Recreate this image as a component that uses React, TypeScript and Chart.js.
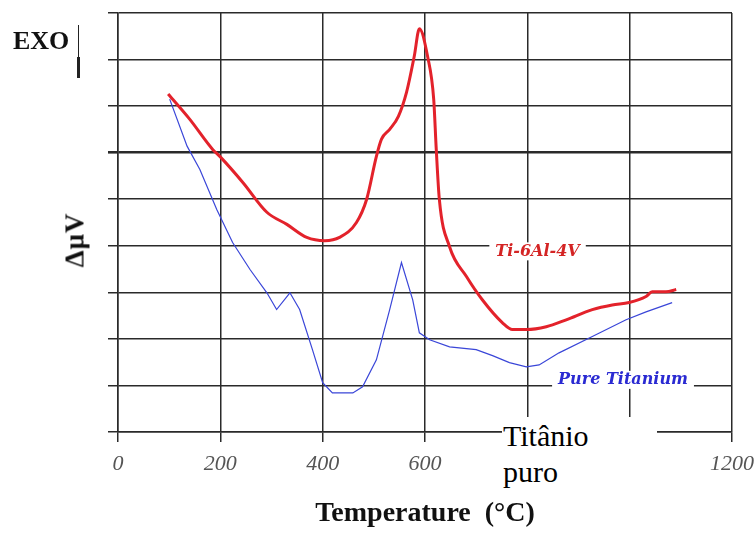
import React, { useEffect, useRef } from "react";
import { Chart, registerables } from "chart.js";

Chart.register(...registerables);

// Ti-6Al-4V curve (temperature °C, ΔμV in grid units)
const tiTemps = [98, 140, 185, 199, 244, 291, 330, 369, 404, 433, 466, 486, 505, 515, 531, 548, 564, 579, 589, 605, 617, 622, 628, 648, 681, 712, 751, 771, 798, 837, 876, 927, 966, 999, 1032, 1044, 1071, 1091];
const tiValues = [7.26, 6.72, 6.07, 5.92, 5.36, 4.72, 4.46, 4.18, 4.11, 4.18, 4.5, 5.0, 5.92, 6.29, 6.5, 6.78, 7.3, 8.07, 8.66, 8.07, 7.15, 6.07, 5.0, 3.98, 3.34, 2.84, 2.35, 2.2, 2.2, 2.26, 2.41, 2.63, 2.73, 2.78, 2.91, 3.01, 3.01, 3.06];

// Pure titanium curve
const pureTemps = [101, 135, 160, 193, 224, 258, 291, 310, 336, 355, 380, 400, 419, 459, 478, 505, 531, 554, 576, 589, 609, 648, 700, 732, 765, 798, 823, 862, 927, 993, 1032, 1083];
const pureValues = [7.15, 6.14, 5.64, 4.78, 4.07, 3.49, 2.99, 2.63, 2.99, 2.63, 1.77, 1.06, 0.84, 0.84, 0.97, 1.55, 2.63, 3.64, 2.84, 2.13, 1.98, 1.83, 1.77, 1.64, 1.49, 1.4, 1.44, 1.7, 2.05, 2.41, 2.58, 2.78];

const xTickValues = [0, 200, 400, 600, 800, 1000, 1200];

const seriesLabels = [
  { text: "Ti-6Al-4V", x: 820, y: 3.88, color: "#d42424" },
  { text: "Pure Titanium", x: 987, y: 1.12, color: "#2a2ad2" },
];

const SERIF = '"Liberation Serif", "Times New Roman", serif';
const WIDE_SERIF = '"DejaVu Serif", serif';

const labelPlugin = {
  id: "seriesLabels",
  afterDraw(chart: any) {
    const { ctx, scales } = chart;
    ctx.save();
    ctx.font = `italic bold 16px ${WIDE_SERIF}`;
    ctx.textAlign = "center";
    ctx.textBaseline = "middle";
    for (const l of seriesLabels) {
      const px = scales.x.getPixelForValue(l.x);
      const py = scales.y.getPixelForValue(l.y);
      const w = ctx.measureText(l.text).width + 12;
      ctx.fillStyle = "#ffffff";
      ctx.fillRect(px - w / 2, py - 9, w, 18);
      ctx.fillStyle = l.color;
      ctx.fillText(l.text, px, py);
    }
    ctx.restore();
  },
};

export default function App() {
  const ref = useRef<HTMLCanvasElement | null>(null);

  useEffect(() => {
    if (!ref.current) return;
    const chart = new Chart(ref.current, {
      type: "line",
      data: {
        datasets: [
          {
            label: "Ti-6Al-4V",
            data: tiTemps.map((t, i) => ({ x: t, y: tiValues[i] })),
            borderColor: "#e3222b",
            borderWidth: 3,
            pointRadius: 0,
            cubicInterpolationMode: "monotone",
            fill: false,
          },
          {
            label: "Pure Titanium",
            data: pureTemps.map((t, i) => ({ x: t, y: pureValues[i] })),
            borderColor: "#3a46d8",
            borderWidth: 1.2,
            pointRadius: 0,
            tension: 0,
            fill: false,
          },
        ],
      },
      options: {
        animation: false,
        responsive: true,
        maintainAspectRatio: false,
        layout: { padding: { top: 13, right: 23, left: 0, bottom: 0 } },
        plugins: { legend: { display: false }, tooltip: { enabled: false } },
        scales: {
          x: {
            type: "linear",
            min: 0,
            max: 1200,
            afterBuildTicks: (scale: any) => {
              scale.ticks = xTickValues.map((v) => ({ value: v }));
            },
            afterFit: (scale: any) => {
              scale.height = 101;
              scale.paddingLeft = 0;
              scale.paddingRight = 0;
            },
            ticks: {
              color: "#555555",
              font: { family: SERIF, size: 22, style: "italic" },
              padding: 9,
              maxRotation: 0,
              callback: (v: any) => String(v),
            },
            grid: { color: "#2a2a2a", lineWidth: 1.5, tickLength: 10 },
            border: { display: true, color: "#2a2a2a", width: 1.5 },
            title: {
              display: true,
              text: "Temperature  (°C)",
              color: "#111111",
              font: { family: SERIF, size: 28, weight: "bold" },
              padding: { top: 0, bottom: 2 },
            },
          },
          y: {
            type: "linear",
            min: 0,
            max: 9,
            afterFit: (scale: any) => {
              scale.width = 118;
              scale.paddingTop = 0;
              scale.paddingBottom = 0;
            },
            ticks: { stepSize: 1, display: false },
            grid: {
              color: "#2a2a2a",
              lineWidth: (c: any) => (c.tick && c.tick.value === 6 ? 2.6 : 1.5),
              tickLength: 10,
            },
            border: { display: true, color: "#2a2a2a", width: 1.5 },
          },
        },
      },
      plugins: [labelPlugin],
    });
    return () => chart.destroy();
  }, []);

  return (
    <div
      style={{
        position: "fixed",
        left: 0,
        top: 0,
        width: 755,
        height: 533,
        background: "#ffffff",
        overflow: "hidden",
      }}
    >
      <canvas ref={ref} />
      <div
        style={{
          position: "absolute",
          left: 13,
          top: 28,
          font: `bold 26px ${SERIF}`,
          lineHeight: "26px",
          color: "#111",
        }}
      >
        EXO
      </div>
      <div style={{ position: "absolute", left: 78, top: 25, width: 1, height: 53, background: "#222" }} />
      <div style={{ position: "absolute", left: 77, top: 57, width: 3, height: 21, background: "#222" }} />
      <div
        style={{
          position: "absolute",
          left: 75,
          top: 240,
          transform: "translate(-50%, -50%) rotate(-90deg)",
          font: `bold 27px ${SERIF}`,
          letterSpacing: "1px",
          lineHeight: "27px",
          whiteSpace: "nowrap",
          color: "#111",
        }}
      >
        ΔμV
      </div>
      <div
        style={{
          position: "absolute",
          left: 502,
          top: 417,
          width: 155,
          height: 76,
          background: "#ffffff",
        }}
      >
        <div
          style={{
            paddingTop: 1,
            paddingLeft: 1,
            font: `30px ${SERIF}`,
            lineHeight: "36px",
            color: "#000",
          }}
        >
          Titânio
          <br />
          puro
        </div>
      </div>
    </div>
  );
}
